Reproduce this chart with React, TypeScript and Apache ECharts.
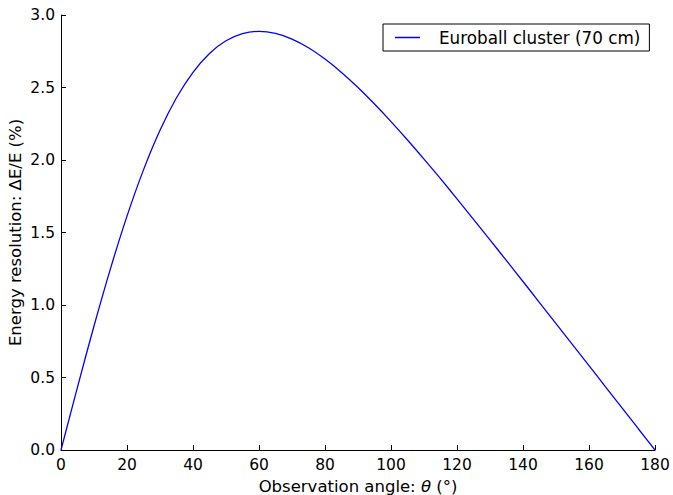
import React, { useEffect, useRef } from "react";
import * as echarts from "echarts";

const angles = [0, 5, 10, 15, 20, 25, 30, 35, 40, 45, 50, 55, 60, 65, 70, 75, 80, 85, 90, 95, 100, 105, 110, 115, 120, 125, 130, 135, 140, 145, 150, 155, 160, 165, 170, 175, 180];
const resolution = [0, 0.434, 0.855, 1.251, 1.613, 1.932, 2.205, 2.429, 2.605, 2.735, 2.822, 2.871, 2.887, 2.873, 2.834, 2.774, 2.696, 2.604, 2.5, 2.386, 2.265, 2.138, 2.006, 1.871, 1.732, 1.591, 1.449, 1.306, 1.162, 1.017, 0.872, 0.727, 0.582, 0.436, 0.291, 0.145, 0];
const seriesName = "Euroball cluster (70 cm)";
const xTicks = [0, 20, 40, 60, 80, 100, 120, 140, 160, 180];
const yTicks = [0, 0.5, 1.0, 1.5, 2.0, 2.5, 3.0];

const FONT = "DejaVu Sans";

export default function App() {
  const ref = useRef<HTMLDivElement>(null);
  useEffect(() => {
    if (!ref.current) return;
    const chart = echarts.init(ref.current, undefined, { renderer: "svg" });
    const data = angles.map((a, i) => [a, resolution[i]]);
    chart.setOption({
      animation: false,
      backgroundColor: "#ffffff",
      textStyle: { fontFamily: FONT },
      grid: { left: 61, right: 18, top: 15, bottom: 45, containLabel: false, outerBoundsMode: "none" },
      legend: {
        show: true,
        left: 383,
        top: 24,
        orient: "horizontal",
        data: [{ name: seriesName, icon: "rect" }],
        itemWidth: 25,
        itemHeight: 1.5,
        padding: [5, 9, 5, 12],
        borderColor: "#000000",
        borderWidth: 1,
        borderRadius: 0,
        backgroundColor: "#ffffff",
        textStyle: { fontFamily: FONT, fontSize: 16.8, color: "#000000", padding: [0, 0, 0, 14] },
      },
      xAxis: {
        type: "value",
        min: 0,
        max: 180,
        interval: 20,
        name: "{a|Observation angle: }{i|θ}{a| (°)}",
        nameLocation: "middle",
        nameGap: 28,
        nameMoveOverlap: false,
        nameTextStyle: {
          lineHeight: 16,
          rich: {
            a: { fontFamily: FONT, fontSize: 16.5, lineHeight: 16, color: "#000000" },
            i: { fontFamily: FONT, fontSize: 16.5, lineHeight: 16, color: "#000000", fontStyle: "italic" },
          },
        },
        axisLine: { show: true, onZero: false, lineStyle: { color: "#000000", width: 1 } },
        axisTick: { show: true, inside: true, length: 5, lineStyle: { color: "#000000" } },
        axisLabel: {
          show: true,
          margin: 7,
          fontFamily: FONT,
          fontSize: 15.5,
          color: "#000000",
          customValues: xTicks,
        },
        splitLine: { show: false },
      },
      yAxis: {
        type: "value",
        min: 0,
        max: 3,
        interval: 0.5,
        name: "Energy resolution: ΔE/E (%)",
        nameLocation: "middle",
        nameGap: 37,
        nameMoveOverlap: false,
        nameTextStyle: { fontFamily: FONT, fontSize: 16.5, color: "#000000" },
        axisLine: { show: true, onZero: false, lineStyle: { color: "#000000", width: 1 } },
        axisTick: { show: true, inside: true, length: 5, lineStyle: { color: "#000000" } },
        axisLabel: {
          show: true,
          margin: 6,
          fontFamily: FONT,
          fontSize: 15.5,
          color: "#000000",
          formatter: (v: number) => (yTicks.includes(v) ? v.toFixed(1) : ""),
        },
        splitLine: { show: false },
      },
      series: [
        {
          name: seriesName,
          type: "line",
          data,
          smooth: 0.3,
          showSymbol: false,
          symbol: "none",
          lineStyle: { color: "#0000ff", width: 1.3 },
          itemStyle: { color: "#0000ff" },
        },
      ],
    });
    return () => chart.dispose();
  }, []);
  return <div ref={ref} style={{ width: 673, height: 495, position: "absolute", left: 0, top: 0 }} />;
}
